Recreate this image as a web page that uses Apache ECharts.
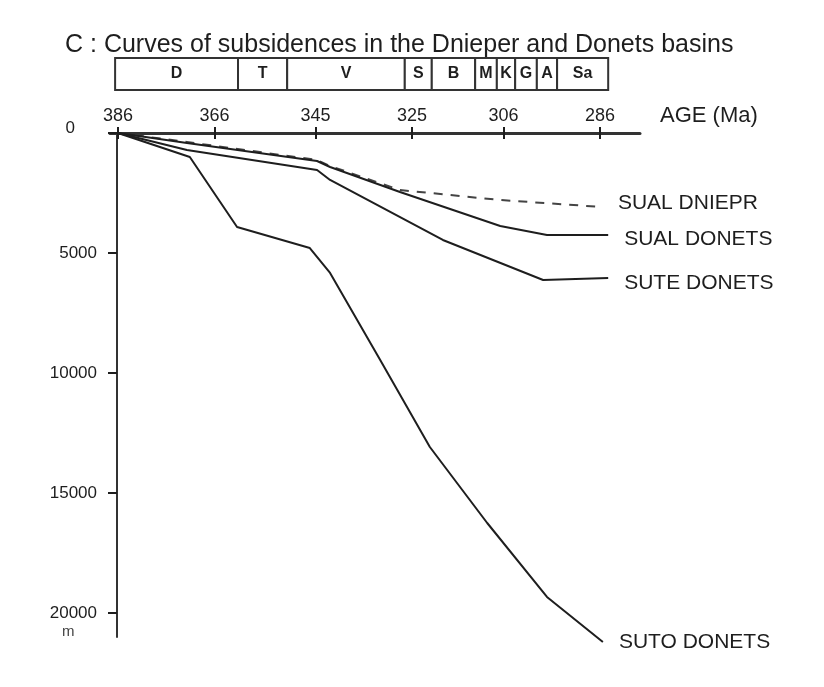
<!DOCTYPE html>
<html>
<head>
<meta charset="utf-8">
<script src="https://cdn.jsdelivr.net/npm/echarts@6/dist/echarts.min.js"></script>
<style>
  html, body { margin: 0; padding: 0; background: #fff; }
  #main { width: 824px; height: 687px; }
</style>
</head>
<body>
<div id="main"></div>
<script>
  // age ticks (Ma) shown on top axis
  var ageTicks = [386, 366, 345, 325, 306, 286];
  var depthTicks = [0, 5000, 10000, 15000, 20000];

  // stratigraphic bar: [older age, younger age, label]
  var stages = [
    [386.6, 361.1, 'D'],
    [361.1, 350.9, 'T'],
    [350.9, 326.5, 'V'],
    [326.5, 320.9, 'S'],
    [320.9, 311.9, 'B'],
    [311.9, 307.4, 'M'],
    [307.4, 303.6, 'K'],
    [303.6, 299.1, 'G'],
    [299.1, 294.9, 'A'],
    [294.9, 284.3, 'Sa']
  ];

  // subsidence curves: [age Ma, depth m]
  var sualDniepr = [[386, 0], [371.7, 375], [344.7, 1125], [342.0, 1375], [327.5, 2375], [306.7, 2792], [285.6, 3083]];
  var sualDonets = [[386, 0], [371.7, 417], [344.7, 1167], [342.0, 1417], [327.5, 2458], [306.7, 3875], [297.0, 4250], [284.3, 4250]];
  var suteDonets = [[386, 0], [371.7, 708], [344.7, 1542], [342.0, 1958], [318.6, 4458], [297.8, 6125], [284.3, 6042]];
  var sutoDonets = [[386, 0], [371.1, 1000], [361.3, 3917], [346.2, 4792], [342.0, 5833], [331.6, 9458],
                    [321.3, 13083], [309.4, 16250], [297.0, 19333], [285.4, 21208]];

  var ink = '#1e1e1e';
  var font = 'Liberation Sans, Arial, sans-serif';

  var chart = echarts.init(document.getElementById('main'));

  // name written to the right of the last point of each curve
  function curve(name, data, dashed, dy) {
    return {
      name: name,
      type: 'line',
      data: data,
      symbol: 'circle',
      symbolSize: 0,
      clip: false,
      xAxisIndex: 0,
      yAxisIndex: 0,
      lineStyle: { color: dashed ? '#444' : ink, width: 2, type: dashed ? [9, 8] : 'solid' },
      label: {
        show: true,
        position: 'right',
        distance: 16,
        offset: [0, dy],
        color: ink,
        fontFamily: font,
        fontSize: 21,
        formatter: function (p) { return p.dataIndex === data.length - 1 ? p.seriesName : ''; }
      },
      z: dashed ? 2 : 3
    };
  }

  var option = {
    backgroundColor: '#fff',
    animation: false,
    title: {
      text: 'C : Curves of subsidences in the Dnieper and Donets basins',
      left: 60,
      top: 28,
      textStyle: { fontFamily: font, fontSize: 25, fontWeight: 'normal', color: ink }
    },
    graphic: [
      { type: 'text', left: 660, top: 105, style: { text: 'AGE (Ma)', font: '22px ' + font, fill: ink } },
      { type: 'text', left: 62, top: 624, style: { text: 'm', font: '15px ' + font, fill: '#444' } }
    ],
    grid: [
      { left: 110, top: 133, width: 530, height: 504 },
      { left: 110, top: 58, width: 530, height: 32 }
    ],
    xAxis: [
      {
        type: 'value', gridIndex: 0, position: 'top', inverse: true,
        min: 277.7, max: 387.66,
        axisLine: { lineStyle: { color: '#333', width: 3 } },
        axisTick: { customValues: ageTicks, length: 6, lineStyle: { color: ink, width: 2 } },
        axisLabel: { customValues: ageTicks, margin: 8, color: ink, fontFamily: font, fontSize: 18 },
        splitLine: { show: false }
      },
      {
        type: 'value', gridIndex: 0, position: 'top', inverse: true,
        min: 277.7, max: 387.66,
        axisLine: { show: false },
        axisTick: { customValues: ageTicks, inside: true, length: 6, lineStyle: { color: ink, width: 2 } },
        axisLabel: { show: false },
        splitLine: { show: false }
      },
      {
        type: 'value', gridIndex: 1, inverse: true,
        min: 277.7, max: 387.66, show: false
      }
    ],
    yAxis: [
      {
        type: 'value', gridIndex: 0, inverse: true,
        min: 0, max: 21000, interval: 5000, offset: -7,
        axisLine: { show: true, lineStyle: { color: '#333', width: 2 } },
        axisTick: { show: true, customValues: depthTicks, length: 9, lineStyle: { color: ink, width: 2 } },
        axisLabel: {
          customValues: depthTicks,
          color: ink, fontFamily: font, fontSize: 17, margin: 20,
          formatter: function (v) { return v === 0 ? '{z|0}' : String(v); },
          rich: { z: { fontFamily: font, fontSize: 17, color: ink, padding: [0, 22, 10, 0] } }
        },
        splitLine: { show: false }
      },
      { type: 'value', gridIndex: 1, min: 0, max: 1, show: false }
    ],
    series: [
      {
        type: 'custom',
        xAxisIndex: 2,
        yAxisIndex: 1,
        data: stages,
        encode: { x: [0, 1] },
        renderItem: function (params, api) {
          var p0 = api.coord([api.value(0), 1]);
          var p1 = api.coord([api.value(1), 0]);
          var x = p0[0], y = p0[1], w = p1[0] - p0[0], h = p1[1] - p0[1];
          return {
            type: 'group',
            children: [
              { type: 'rect', shape: { x: x, y: y, width: w, height: h },
                style: { fill: '#fff', stroke: '#333', lineWidth: 2 } },
              { type: 'text', x: x + w / 2, y: y + h / 2,
                style: { text: stages[params.dataIndex][2], align: 'center', verticalAlign: 'middle',
                         font: 'bold 16px ' + font, fill: ink } }
            ]
          };
        }
      },
      curve('SUAL DNIEPR', sualDniepr, true, -4),
      curve('SUAL DONETS', sualDonets, false, 4),
      curve('SUTE DONETS', suteDonets, false, 5),
      curve('SUTO DONETS', sutoDonets, false, 0)
    ]
  };

  chart.setOption(option);
</script>
</body>
</html>
